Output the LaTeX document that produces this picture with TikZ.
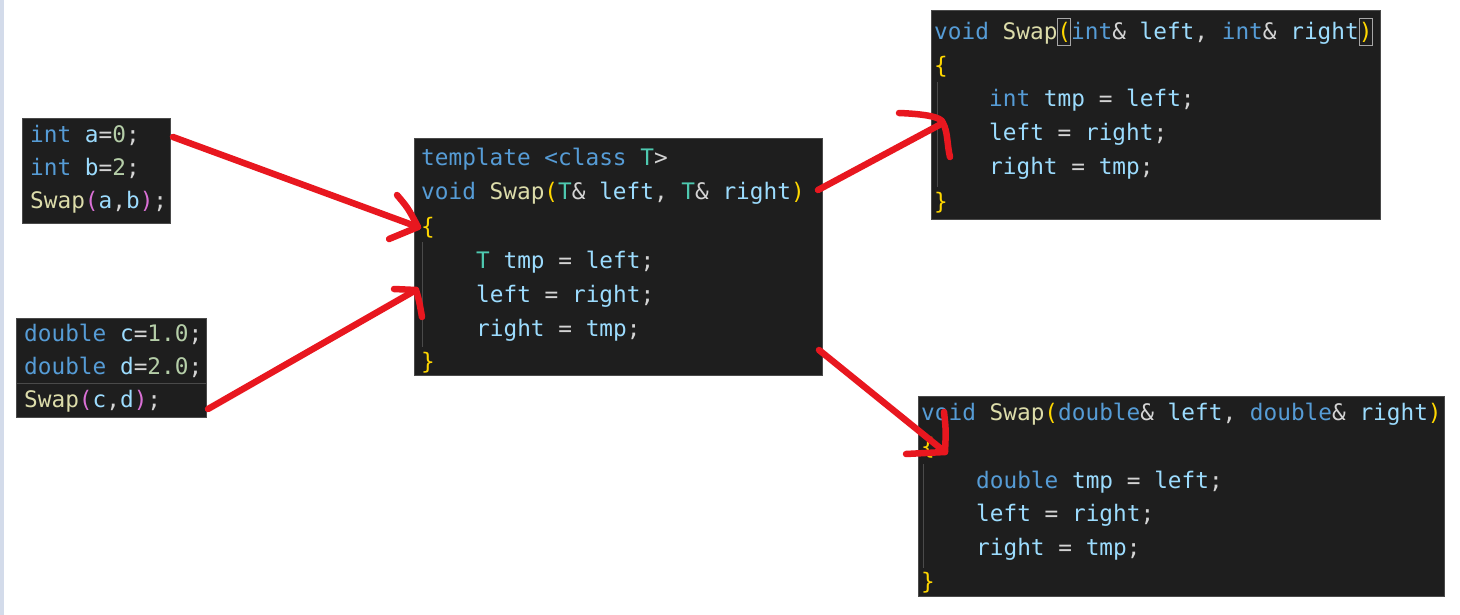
\documentclass[tikz,border=0pt]{standalone}
\usepackage{fontspec}
\newfontfamily\codefont{DejaVu Sans Mono}
\definecolor{kwc}{HTML}{569CD6}
\definecolor{vrc}{HTML}{9CDCFE}
\definecolor{tyc}{HTML}{4EC9B0}
\definecolor{fnc}{HTML}{DCDCAA}
\definecolor{nmc}{HTML}{B5CEA8}
\definecolor{gdc}{HTML}{FFD700}
\definecolor{puc}{HTML}{DA70D6}
\definecolor{txc}{HTML}{D4D4D4}
\definecolor{bgc}{HTML}{1E1E1E}
\definecolor{edgec}{HTML}{4A4A4A}
\definecolor{penc}{HTML}{E8171F}
\definecolor{stripc}{HTML}{D3DBEA}
\newcommand{\ckw}[1]{\textcolor{kwc}{#1}}
\newcommand{\cvr}[1]{\textcolor{vrc}{#1}}
\newcommand{\cty}[1]{\textcolor{tyc}{#1}}
\newcommand{\cfn}[1]{\textcolor{fnc}{#1}}
\newcommand{\cnm}[1]{\textcolor{nmc}{#1}}
\newcommand{\cgd}[1]{\textcolor{gdc}{#1}}
\newcommand{\cpu}[1]{\textcolor{puc}{#1}}
\tikzset{
  codebox/.style={draw=edgec, line width=0.8pt, fill=bgc, anchor=north west, inner sep=0pt},
  codeline/.style={anchor=base west, inner sep=0pt, text=txc, font=\codefont\fontsize{22.75}{34}\selectfont},
  guide/.style={draw=edgec, line width=1pt},
  pen/.style={draw=penc, line width=6.5pt, line cap=round, line join=round},
  matchbox/.style={draw=gray!70, line width=0.8pt, inner sep=0pt, minimum width=13pt, minimum height=27pt}
}
\begin{document}
\begin{tikzpicture}[x=1pt, y=-1pt]
\useasboundingbox (0,0) rectangle (1460,615);
\fill[white] (0,0) rectangle (1460,615);
\fill[stripc] (0,0) rectangle (4,615);

% boxes
\node[codebox, minimum width=148pt, minimum height=105pt] (A) at (22,118) {};
\node[codebox, minimum width=190pt, minimum height=99pt] (B) at (16,318) {};
\node[codebox, minimum width=408pt, minimum height=237pt] (C) at (414,138) {};
\node[codebox, minimum width=449pt, minimum height=209pt] (D) at (931,10) {};
\node[codebox, minimum width=526pt, minimum height=200pt] (E) at (918,396) {};

% current-line separator in B
\draw[draw=edgec, line width=0.8pt] (B.west |- 0,383) -- (B.east |- 0,383);

% indent guides
\draw[guide] (422,242) -- (422,347);
\draw[guide] (937,82) -- (937,187);
\draw[guide] (923,464) -- (923,568);

% bracket match boxes in D
\node[matchbox] (Dlp) at (1064.3,32) {};
\node[matchbox] (Drp) at (1366,32) {};

% box A
\node[codeline] (A1) at (30,142.5) {\ckw{int} \cvr{a}=\cnm{0};};
\node[codeline] (A2) at (30,175.5) {\ckw{int} \cvr{b}=\cnm{2};};
\node[codeline] (A3) at (30,208.5) {\cfn{Swap}\cpu{(}\cvr{a},\cvr{b}\cpu{)};};

% box B
\node[codeline] (B1) at (24,341) {\ckw{double} \cvr{c}=\cnm{1.0};};
\node[codeline] (B2) at (24,374.5) {\ckw{double} \cvr{d}=\cnm{2.0};};
\node[codeline] (B3) at (24,407) {\cfn{Swap}\cpu{(}\cvr{c},\cvr{d}\cpu{)};};

% box C
\node[codeline] (C1) at (421,166) {\ckw{template} \ckw{<class} \cty{T}>};
\node[codeline] (C2) at (421,200) {\ckw{void} \cfn{Swap}\cgd{(}\cty{T}\& \cvr{left}, \cty{T}\& \cvr{right}\cgd{)}};
\node[codeline] (C3) at (421,234) {\cgd{\{}};
\node[codeline] (C4) at (476,268) {\cty{T} \cvr{tmp} = \cvr{left};};
\node[codeline] (C5) at (476,302) {\cvr{left} = \cvr{right};};
\node[codeline] (C6) at (476,336) {\cvr{right} = \cvr{tmp};};
\node[codeline] (C7) at (421,369) {\cgd{\}}};

% box D
\node[codeline] (D1) at (934,40) {\ckw{void} \cfn{Swap}\cgd{(}\ckw{int}\& \cvr{left}, \ckw{int}\& \cvr{right}\cgd{)}};
\node[codeline] (D2) at (934,74) {\cgd{\{}};
\node[codeline] (D3) at (989,107) {\ckw{int} \cvr{tmp} = \cvr{left};};
\node[codeline] (D4) at (989,141) {\cvr{left} = \cvr{right};};
\node[codeline] (D5) at (989,175) {\cvr{right} = \cvr{tmp};};
\node[codeline] (D6) at (934,209) {\cgd{\}}};

% box E
\node[codeline] (E1) at (921,420) {\ckw{void} \cfn{Swap}\cgd{(}\ckw{double}\& \cvr{left}, \ckw{double}\& \cvr{right}\cgd{)}};
\node[codeline] (E2) at (921,454) {\cgd{\{}};
\node[codeline] (E3) at (976,488) {\ckw{double} \cvr{tmp} = \cvr{left};};
\node[codeline] (E4) at (976,521) {\cvr{left} = \cvr{right};};
\node[codeline] (E5) at (976,555) {\cvr{right} = \cvr{tmp};};
\node[codeline] (E6) at (921,589) {\cgd{\}}};

% hand-drawn red arrows
\coordinate (p1s) at (173,137);
\coordinate (p1t) at (418,227);
\coordinate (p1u) at (397,195);
\coordinate (p1l) at (389,239);
\draw[pen] (p1s) -- (p1t);
\draw[pen] (p1u) .. controls (408,208) .. (p1t) -- (p1l);

\coordinate (p2s) at (208,409);
\coordinate (p2t) at (416,290);
\coordinate (p2a) at (394,289);
\coordinate (p2b) at (422,317);
\draw[pen] (p2s) -- (p2t);
\draw[pen] (p2a) -- (p2t) .. controls (419,300) .. (p2b);

\coordinate (p3s) at (818,190);
\coordinate (p3t) at (943,123);
\coordinate (p3a) at (899,113);
\coordinate (p3b) at (950,157);
\draw[pen] (p3s) -- (p3t);
\draw[pen] (p3a) .. controls (925,114) and (942,117) .. (p3t) .. controls (948,132) and (947,145) .. (p3b);

\coordinate (p4s) at (819,350);
\coordinate (p4t) at (945,452);
\coordinate (p4a) at (944,412);
\coordinate (p4b) at (906,454);
\draw[pen] (p4s) -- (p4t);
\draw[pen] (p4a) .. controls (946,430) .. (p4t) -- (p4b);
\end{tikzpicture}
\end{document}
